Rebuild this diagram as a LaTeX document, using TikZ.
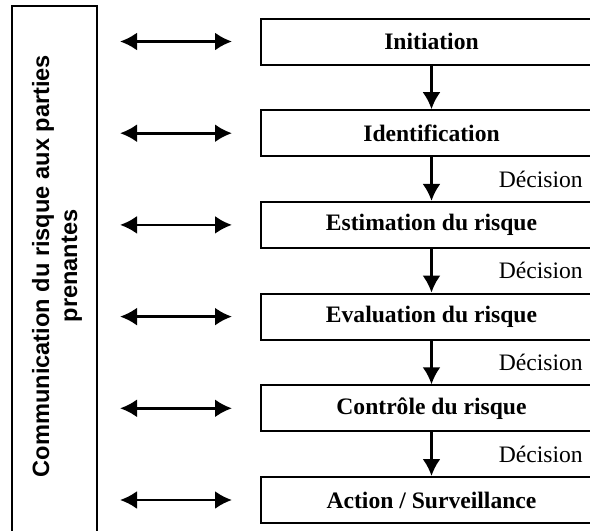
\documentclass[tikz,border=0pt]{standalone}
\usepackage{fontspec}
\setmainfont{Liberation Serif}
\setsansfont{Liberation Sans}
\usetikzlibrary{arrows.meta,calc,positioning}

\begin{document}
\begin{tikzpicture}[x=0.5pt, y=-0.5pt, node distance=21.85pt]
    \tikzset{etape/.style={draw, line width=1pt,
        minimum width=170.5pt,
        minimum height=23pt,
        font=\fontsize{11.8}{14}\selectfont\bfseries},
      decision/.style={right=33pt, inner sep=0pt,
        font=\fontsize{11.8}{14}\selectfont},
      fleche/.style={line width=1.3pt, -{Latex[length=8.5pt,width=9pt]}},
      echange/.style={line width=1.3pt,
        {Latex[length=8.5pt,width=9pt]}-{Latex[length=8.5pt,width=9pt]},
        shorten <=11pt, shorten >=14pt}}
    \useasboundingbox (0,0) rectangle (590,531);
    % bloc de communication (coupe en bas)
    \node[draw, line width=1pt, minimum width=42.5pt, minimum height=280pt] (comm) at (54.5,286) {};
    \node[rotate=90, align=center, font=\sffamily\bfseries\fontsize{11.8}{14}\selectfont] (commtxt) at (57,266)
      {Communication du risque aux parties\\prenantes};
    % etapes
    \node[etape] (init) at (431.5,41.5) {Initiation};
    \node[etape, below=of init] (ident) {Identification};
    \node[etape, below=of ident] (estim) {Estimation du risque};
    \node[etape, below=of estim] (eval) {Evaluation du risque};
    \node[etape, below=of eval] (ctrl) {Contrôle du risque};
    \node[etape, below=of ctrl] (action) {Action / Surveillance};
    \draw[fleche] (init) -- (ident);
    \draw[fleche] (ident) -- node[decision] (dec1) {Décision} (estim);
    \draw[fleche] (estim) -- node[decision] (dec2) {Décision} (eval);
    \draw[fleche] (eval) -- node[decision] (dec3) {Décision} (ctrl);
    \draw[fleche] (ctrl) -- node[decision] (dec4) {Décision} (action);
    % echanges avec les parties prenantes
    \draw[echange] (comm.east |- init.west) -- (init.west);
    \draw[echange] (comm.east |- ident.west) -- (ident.west);
    \draw[echange] (comm.east |- estim.west) -- (estim.west);
    \draw[echange] (comm.east |- eval.west) -- (eval.west);
    \draw[echange] (comm.east |- ctrl.west) -- (ctrl.west);
    \draw[echange] (comm.east |- action.west) -- (action.west);
\end{tikzpicture}
\end{document}
